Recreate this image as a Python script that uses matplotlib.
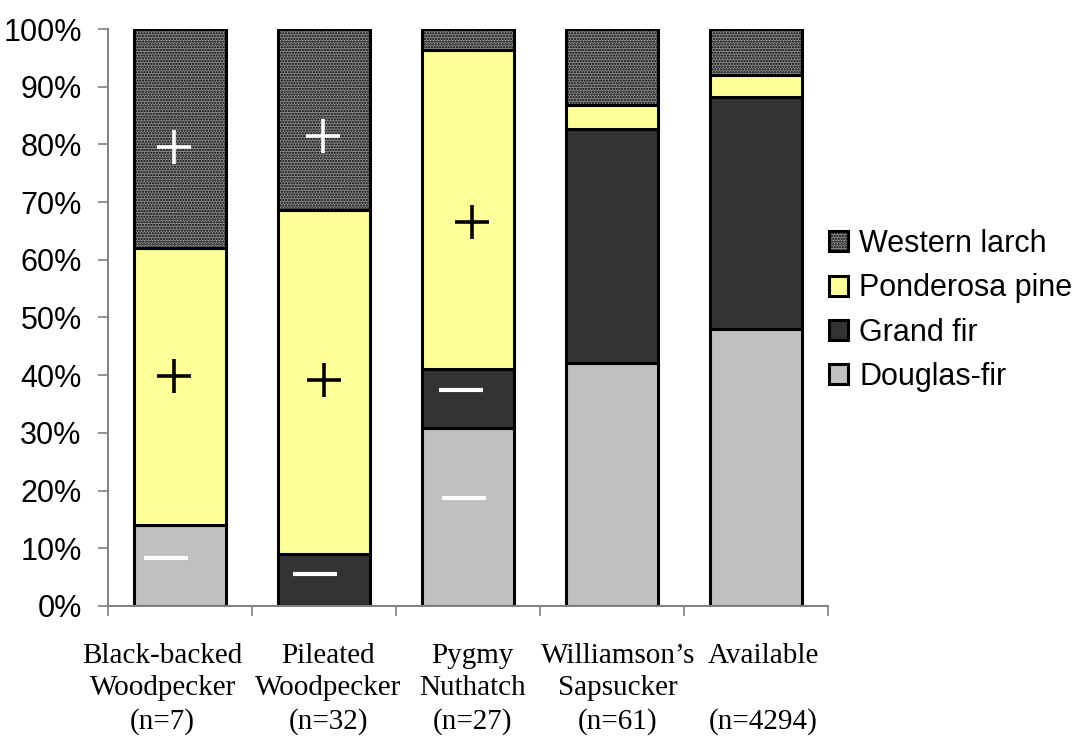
import matplotlib

matplotlib.use("Agg")
import matplotlib.pyplot as plt
import numpy as np

# tree species share of nest trees per bird species (percent)
groups = ["Black-backed\nWoodpecker\n(n=7)", "Pileated\nWoodpecker\n(n=32)",
          "Pygmy\nNuthatch\n(n=27)", "Williamson\u2019s\nSapsucker\n(n=61)",
          "Available\n\n(n=4294)"]
douglas_fir = [14.1, 0.0, 30.8, 42.2, 48.0]
grand_fir = [0.0, 9.0, 10.3, 40.4, 40.2]
ponderosa = [47.9, 59.7, 55.2, 4.2, 3.8]
western_larch = [38.0, 31.3, 3.7, 13.2, 8.0]

# selection signs: (group index, x nudge, y in %, marker, colour)
signs = [
    (0, -0.04, 79.6, "+", "white"), (1, -0.01, 81.5, "+", "white"),
    (0, -0.04, 39.8, "+", "black"), (1, 0.00, 39.1, "+", "black"),
    (2, 0.03, 66.6, "+", "black"),
    (0, -0.10, 8.3, "_", "white"), (1, -0.06, 5.5, "_", "white"),
    (2, -0.05, 37.4, "_", "white"), (2, -0.03, 18.7, "_", "white"),
]

plt.rcParams["hatch.linewidth"] = 1.1

fig = plt.figure(figsize=(10.78, 7.40), dpi=100)
ax = fig.add_axes([0.1002, 0.1811, 0.6679, 0.7797])

x = np.arange(len(groups))
w = 0.64
bottom = np.zeros(len(groups))
layers = [
    ("Douglas-fir", douglas_fir, "#c0c0c0", None),
    ("Grand fir", grand_fir, "#333333", None),
    ("Ponderosa pine", ponderosa, "#ffff99", None),
    ("Western larch", western_larch, "#8e8e8e", "......"),
]
handles = []
for name, vals, col, hatch in layers:
    vals = np.asarray(vals)
    b = ax.bar(x, vals, w, bottom=bottom, color=col, edgecolor="black",
               linewidth=2.2, hatch=hatch, label=name)
    handles.append(b)
    bottom += vals

for i, dx, y, m, c in signs:
    ax.plot(i + dx, y, marker=m, ms=24 if m == "+" else 31,
            mew=2.6 if m == "+" else 3.0, color=c, ls="none")

ax.set_xlim(-0.5, len(groups) - 0.5)
ax.set_ylim(0, 100)
ax.set_yticks(np.arange(0, 101, 10))
ax.set_yticklabels([f"{v}%" for v in range(0, 101, 10)],
                   fontsize=22, family="Liberation Sans")
ax.set_xticks(np.arange(-0.5, len(groups), 1.0))
ax.set_xticklabels([])
ax.tick_params(axis="both", direction="out", length=7, width=1.2,
               color="#808080")
ax.tick_params(axis="y", pad=12)
for s in ("top", "right"):
    ax.spines[s].set_visible(False)
for s in ("left", "bottom"):
    ax.spines[s].set_color("#808080")
    ax.spines[s].set_linewidth(1.4)

label_dx = [-0.12, 0.03, 0.03, 0.04, 0.05]
for i, lab in enumerate(groups):
    ax.text(i + label_dx[i], -0.065, lab, transform=ax.get_xaxis_transform(),
            ha="center", va="top", fontsize=21, family="Liberation Serif",
            linespacing=1.3)

leg = ax.legend(handles[::-1], [l[0] for l in layers][::-1],
                loc="center left", bbox_to_anchor=(0.985, 0.512),
                frameon=False, prop={"family": "Liberation Sans", "size": 22},
                handlelength=0.62, handleheight=0.62, handletextpad=0.35,
                labelspacing=0.47, borderaxespad=0)

fig.savefig("out.png", dpi=100)
